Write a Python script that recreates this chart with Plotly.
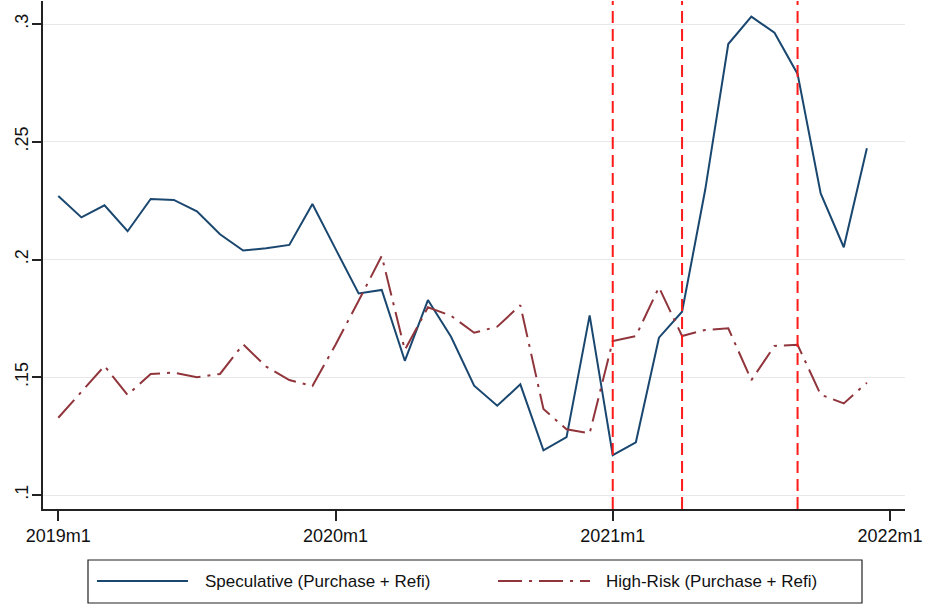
import plotly.graph_objects as go

# Monthly observations, 2019m1 - 2021m12
months = [f"{y}m{m}" for y in (2019, 2020, 2021) for m in range(1, 13)]

speculative = [0.2270, 0.2179, 0.2230, 0.2120, 0.2257, 0.2253, 0.2205, 0.2107,
               0.2038, 0.2048, 0.2062, 0.2236, 0.2045, 0.1856, 0.1871, 0.1570,
               0.1828, 0.1672, 0.1464, 0.1379, 0.1470, 0.1190, 0.1246, 0.1763,
               0.1169, 0.1224, 0.1668, 0.1778, 0.2295, 0.2915, 0.3031, 0.2963,
               0.2788, 0.2281, 0.2052, 0.2472]

high_risk = [0.1328, 0.1437, 0.1548, 0.1425, 0.1514, 0.1520, 0.1500, 0.1514,
             0.1640, 0.1545, 0.1488, 0.1463, 0.1638, 0.1825, 0.2015, 0.1616,
             0.1797, 0.1761, 0.1689, 0.1715, 0.1806, 0.1365, 0.1279, 0.1262,
             0.1654, 0.1675, 0.1882, 0.1675, 0.1701, 0.1708, 0.1488, 0.1633,
             0.1638, 0.1426, 0.1389, 0.1477]

event_months = ["2021m1", "2021m4", "2021m9"]

x_tick_labels = ["2019m1", "2020m1", "2021m1", "2022m1"]
x_tick_pos = [0, 12, 24, 36]
y_tick_vals = [0.1, 0.15, 0.2, 0.25, 0.3]
y_tick_text = [".1", ".15", ".2", ".25", ".3"]

BLUE = "#1a476f"
MAROON = "#90353b"
DASHDOT = "24px,7px,3px,7px"
FONT = "Liberation Sans, Arial, sans-serif"

x = list(range(len(months)))

fig = go.Figure()
fig.add_trace(go.Scatter(x=x, y=speculative, mode="lines",
                         name="Speculative (Purchase + Refi)",
                         line=dict(color=BLUE, width=2)))
fig.add_trace(go.Scatter(x=x, y=high_risk, mode="lines",
                         name="High-Risk (Purchase + Refi)",
                         line=dict(color=MAROON, width=2, dash=DASHDOT)))

for m in event_months:
    fig.add_vline(x=months.index(m), line=dict(color="#ff1a1a", width=2, dash="12px,6px"))

W, H = 927, 605
L, R, T, B = 43, 22, 1, 96
pw, ph = W - L - R, H - T - B


def px_x(p):
    return (p - L) / pw


def px_y(p):
    return (H - B - p) / ph


# Legend box drawn below the plot area
legend_items = [
    (97, 188, 203, BLUE, "solid", "Speculative (Purchase + Refi)"),
    (498, 590, 604, MAROON, DASHDOT, "High-Risk (Purchase + Refi)"),
]
fig.add_shape(type="rect", xref="paper", yref="paper",
              x0=px_x(88), x1=px_x(862), y0=px_y(603), y1=px_y(560),
              line=dict(color="#222222", width=1.2), fillcolor="white")
for x0, x1, tx, col, dash, label in legend_items:
    fig.add_shape(type="line", xref="paper", yref="paper",
                  x0=px_x(x0), x1=px_x(x1), y0=px_y(581), y1=px_y(581),
                  line=dict(color=col, width=2, dash=dash))
    fig.add_annotation(xref="paper", yref="paper", x=px_x(tx), y=px_y(581),
                       text=label, showarrow=False, xanchor="left", yanchor="middle",
                       font=dict(family=FONT, size=17, color="#111111"))

fig.update_layout(
    width=W, height=H,
    margin=dict(l=L, r=R, t=T, b=B),
    paper_bgcolor="white", plot_bgcolor="white",
    showlegend=False,
    font=dict(family=FONT, size=17, color="#111111"),
)
fig.update_xaxes(
    range=[-0.662, 36.65], tickvals=x_tick_pos, ticktext=x_tick_labels,
    showgrid=False, zeroline=False, showline=True, linecolor="#222222", linewidth=1.5,
    ticks="outside", ticklen=10, tickwidth=1.5, tickcolor="#222222",
    tickfont=dict(size=18), automargin=False,
)
fig.update_yaxes(
    range=[0.09406, 0.30977], tickvals=y_tick_vals, ticktext=y_tick_text,
    tickangle=-90, showgrid=True, gridcolor="#e8e8e8", gridwidth=1.2,
    zeroline=False, showline=True, linecolor="#222222", linewidth=1.5,
    ticks="outside", ticklen=9, tickwidth=1.5, tickcolor="#222222",
    ticklabelstandoff=-3,
    tickfont=dict(size=18), automargin=False,
)

fig.write_html("out.html")
